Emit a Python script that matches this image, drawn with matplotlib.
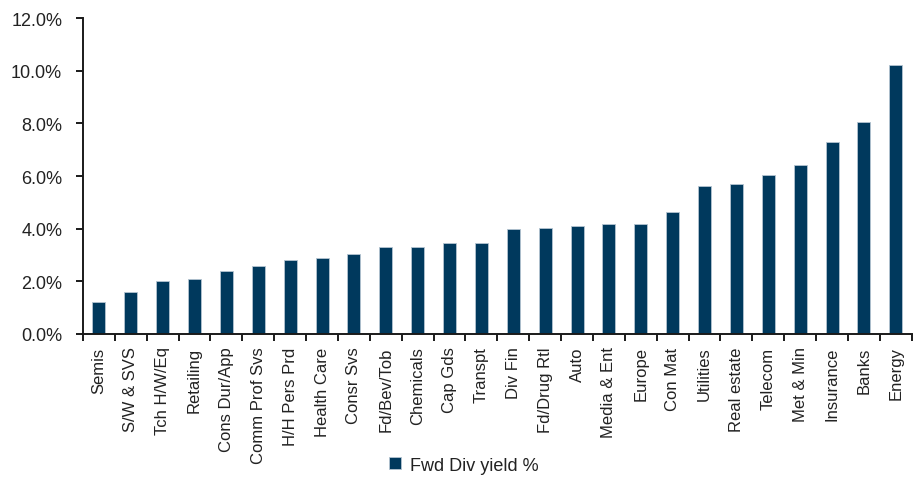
import matplotlib
matplotlib.use("Agg")
import matplotlib.pyplot as plt
import numpy as np
from matplotlib.ticker import PercentFormatter, FixedLocator

plt.rcParams["font.family"] = ["Liberation Sans", "DejaVu Sans"]

sectors = [
    "Semis", "S/W & SVS", "Tch H/W/Eq", "Retailing", "Cons Dur/App",
    "Comm Prof Svs", "H/H Pers Prd", "Health Care", "Consr Svs", "Fd/Bev/Tob",
    "Chemicals", "Cap Gds", "Transpt", "Div Fin", "Fd/Drug Rtl", "Auto",
    "Media & Ent", "Europe", "Con Mat", "Utilities", "Real estate", "Telecom",
    "Met & Min", "Insurance", "Banks", "Energy",
]
fwd_div_yield = [
    1.23, 1.58, 2.01, 2.08, 2.38, 2.59, 2.81, 2.89, 3.03, 3.32,
    3.32, 3.46, 3.46, 3.98, 4.04, 4.10, 4.18, 4.18, 4.62, 5.61,
    5.70, 6.05, 6.42, 7.28, 8.06, 10.23,
]
y_ticks = [0, 2, 4, 6, 8, 10, 12]

bar_color = "#00395D"
text_color = "#222222"
axis_color = "#1a1a1a"

fig = plt.figure(figsize=(9.13, 4.85), dpi=100)
ax = fig.add_axes([0.0909, 0.3093, 0.9077, 0.6515])

x = np.arange(len(sectors))
ax.bar(x, fwd_div_yield, width=0.41, color=bar_color,
       edgecolor="#b4c4d2", linewidth=0.6, label="Fwd Div yield %", zorder=2)

ax.set_xlim(-0.5, len(sectors) - 0.5)
ax.set_ylim(0, 12)
ax.set_yticks(y_ticks)
ax.yaxis.set_major_formatter(PercentFormatter(decimals=1))

ax.set_xticks(x)
ax.set_xticklabels(sectors, rotation=90, ha="center", va="top")
ax.xaxis.set_minor_locator(FixedLocator(np.arange(-0.5, len(sectors), 1.0)))
ax.tick_params(axis="x", which="major", length=0, pad=9,
               labelsize=12, labelcolor=text_color)
ax.tick_params(axis="x", which="minor", length=5, width=1.4,
               direction="out", color=axis_color)
ax.tick_params(axis="y", length=5, width=1.4, direction="out",
               color=axis_color, pad=10, labelsize=13, labelcolor=text_color)

for side in ("top", "right"):
    ax.spines[side].set_visible(False)
for side in ("left", "bottom"):
    ax.spines[side].set_color(axis_color)
    ax.spines[side].set_linewidth(1.4)

handles, labels = ax.get_legend_handles_labels()
fig.legend(handles, labels, loc="lower center", bbox_to_anchor=(0.508, -0.012),
           frameon=False, fontsize=13, handlelength=0.65, handleheight=0.65,
           handletextpad=0.5, labelcolor=text_color)

fig.savefig("out.png", dpi=100, facecolor="white")
